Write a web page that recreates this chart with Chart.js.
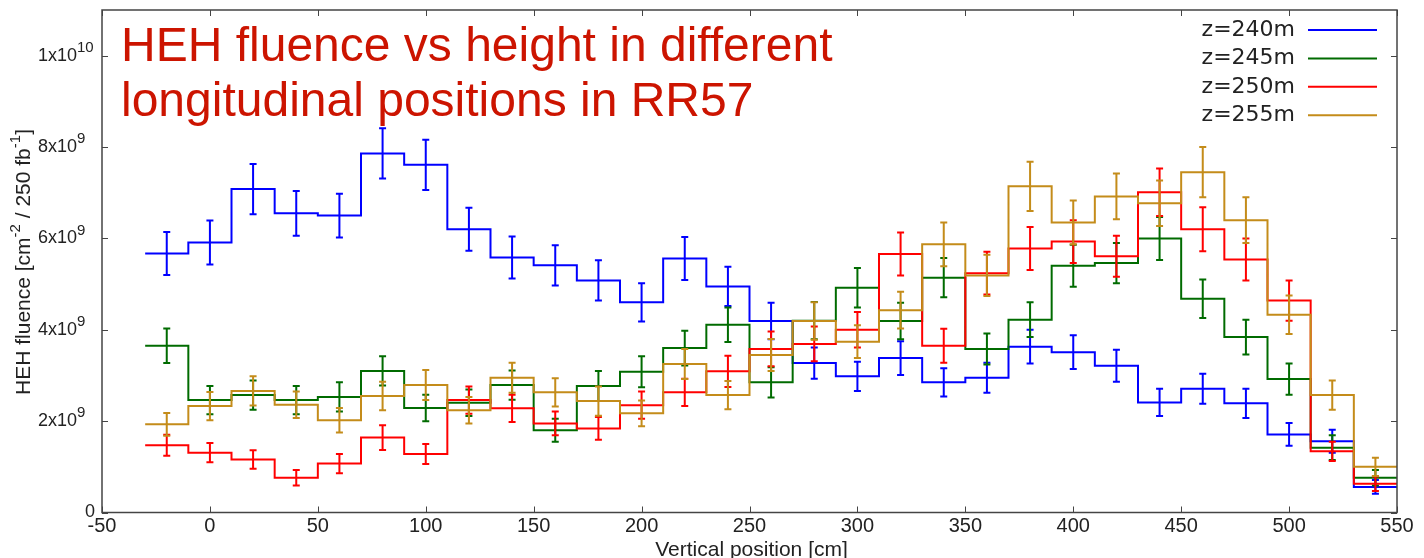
<!DOCTYPE html>
<html>
<head>
<meta charset="utf-8">
<title>HEH fluence vs height</title>
<script src="https://cdn.jsdelivr.net/npm/chart.js@4/dist/chart.umd.min.js"></script>
<style>
  html, body { margin: 0; padding: 0; background: #fff; }
</style>
</head>
<body>
<canvas id="chart" width="1424" height="558"></canvas>
<script>
// bin centres in cm (bins are 20 cm wide), fluence in units of 1e9 cm^-2 / 250 fb^-1
const binCenters = [-20, 0, 20, 40, 60, 80, 100, 120, 140, 160, 180, 200, 220, 240, 260,
    280, 300, 320, 340, 360, 380, 400, 420, 440, 460, 480, 500, 520, 540];
const binWidth = 20;

const z240 = [5.67, 5.91, 7.08, 6.55, 6.50, 7.86, 7.61, 6.20, 5.58, 5.41, 5.08, 4.60, 5.56, 4.95, 4.19,
    3.27, 2.98, 3.38, 2.85, 2.95, 3.63, 3.51, 3.21, 2.41, 2.71, 2.39, 1.71, 1.56, 0.56];
const z240Err = [0.47, 0.48, 0.55, 0.49, 0.48, 0.55, 0.55, 0.47, 0.46, 0.44, 0.44, 0.42, 0.47, 0.43, 0.40,
    0.34, 0.32, 0.37, 0.31, 0.33, 0.37, 0.37, 0.35, 0.30, 0.33, 0.32, 0.25, 0.25, 0.15];

const z245 = [3.65, 2.46, 2.57, 2.46, 2.53, 3.10, 2.29, 2.40, 2.79, 1.80, 2.77, 3.08, 3.60, 4.11, 2.85,
    4.20, 4.92, 4.19, 5.14, 3.58, 4.22, 5.40, 5.46, 6.00, 4.68, 3.84, 2.92, 1.42, 0.76];
const z245Err = [0.38, 0.31, 0.32, 0.31, 0.32, 0.32, 0.29, 0.29, 0.32, 0.25, 0.33, 0.34, 0.38, 0.38, 0.33,
    0.41, 0.43, 0.40, 0.43, 0.34, 0.38, 0.46, 0.44, 0.47, 0.42, 0.38, 0.34, 0.27, 0.17];

const z250 = [1.47, 1.31, 1.16, 0.76, 1.07, 1.64, 1.28, 2.46, 2.28, 1.95, 1.84, 2.35, 2.63, 3.09, 3.58,
    3.69, 4.00, 5.66, 3.65, 5.24, 5.78, 5.93, 5.61, 7.01, 6.20, 5.54, 4.64, 1.34, 0.63];
const z250Err = [0.23, 0.21, 0.20, 0.17, 0.21, 0.27, 0.22, 0.30, 0.30, 0.26, 0.25, 0.30, 0.30, 0.34, 0.38,
    0.38, 0.39, 0.47, 0.37, 0.47, 0.47, 0.47, 0.45, 0.52, 0.48, 0.46, 0.44, 0.21, 0.16];

const z255 = [1.93, 2.33, 2.66, 2.36, 2.02, 2.55, 2.79, 2.24, 2.95, 2.63, 2.44, 2.17, 3.25, 2.57, 3.45,
    4.19, 3.74, 4.43, 5.87, 5.19, 7.14, 6.35, 6.92, 6.77, 7.45, 6.40, 4.33, 2.57, 1.00];
const z255Err = [0.25, 0.31, 0.32, 0.29, 0.27, 0.31, 0.33, 0.29, 0.33, 0.31, 0.32, 0.28, 0.33, 0.31, 0.35,
    0.41, 0.36, 0.40, 0.48, 0.45, 0.54, 0.48, 0.50, 0.50, 0.55, 0.50, 0.42, 0.32, 0.20];

const seriesLabels = ['z=240m', 'z=245m', 'z=250m', 'z=255m'];
const seriesColors = ['#0000ff', '#006b00', '#ff0000', '#c48c1a'];
const seriesValues = [z240, z245, z250, z255];
const seriesErrors = [z240Err, z245Err, z250Err, z255Err];

const xTicks = [-50, 0, 50, 100, 150, 200, 250, 300, 350, 400, 450, 500, 550];
const yTicks = [0, 2, 4, 6, 8, 10];
const yTickLabels = [['0', ''], ['2x10', '9'], ['4x10', '9'], ['6x10', '9'], ['8x10', '9'], ['1x10', '10']];

const titleLines = ['HEH fluence vs height in different', 'longitudinal positions in RR57'];

const FONT = '"Liberation Sans", Arial, sans-serif';
const TEXT = '#222';

// histogram steps: each bin becomes a flat segment from its low to its high edge
function stepPoints(values) {
    const pts = [];
    binCenters.forEach((c, i) => {
        pts.push({ x: c - binWidth / 2, y: values[i] });
        pts.push({ x: c + binWidth / 2, y: values[i] });
    });
    return pts;
}

const datasets = seriesValues.map((vals, i) => ({
    label: seriesLabels[i],
    data: stepPoints(vals),
    borderColor: seriesColors[i],
    borderWidth: 2,
    pointRadius: 0,
    tension: 0,
    fill: false,
    order: seriesValues.length - i
}));

// vertical error bars with caps, drawn right after their own dataset
const errorBars = {
    id: 'errorBars',
    afterDatasetDraw(chart, args) {
        const i = args.index;
        const ctx = chart.ctx;
        const xs = chart.scales.x, ys = chart.scales.y;
        ctx.save();
        ctx.strokeStyle = seriesColors[i];
        ctx.lineWidth = 2;
        binCenters.forEach((c, k) => {
            const v = seriesValues[i][k], e = seriesErrors[i][k];
            const px = xs.getPixelForValue(c);
            const top = ys.getPixelForValue(v + e);
            const bot = ys.getPixelForValue(v - e);
            ctx.beginPath();
            ctx.moveTo(px, top); ctx.lineTo(px, bot);
            ctx.moveTo(px - 3.5, top); ctx.lineTo(px + 3.5, top);
            ctx.moveTo(px - 3.5, bot); ctx.lineTo(px + 3.5, bot);
            ctx.stroke();
        });
        ctx.restore();
    }
};

// frame with inward ticks, tick labels, axis titles, title and key
const decorations = {
    id: 'decorations',
    afterDraw(chart) {
        const ctx = chart.ctx;
        const a = chart.chartArea;
        const xs = chart.scales.x, ys = chart.scales.y;
        ctx.save();

        ctx.strokeStyle = '#444';
        ctx.lineWidth = 1.5;
        ctx.strokeRect(a.left, a.top, a.right - a.left, a.bottom - a.top);
        ctx.lineWidth = 1;
        ctx.beginPath();
        xTicks.forEach(t => {
            const px = Math.round(xs.getPixelForValue(t)) + 0.5;
            ctx.moveTo(px, a.bottom); ctx.lineTo(px, a.bottom - 6);
            ctx.moveTo(px, a.top); ctx.lineTo(px, a.top + 6);
        });
        yTicks.forEach(t => {
            const py = Math.round(ys.getPixelForValue(t)) + 0.5;
            ctx.moveTo(a.left, py); ctx.lineTo(a.left + 6, py);
            ctx.moveTo(a.right, py); ctx.lineTo(a.right - 6, py);
        });
        ctx.stroke();

        ctx.fillStyle = TEXT;
        ctx.font = '20px ' + FONT;
        ctx.textAlign = 'center';
        ctx.textBaseline = 'middle';
        xTicks.forEach(t => ctx.fillText(String(t), xs.getPixelForValue(t), a.bottom + 14));

        yTicks.forEach((t, k) => {
            const py = ys.getPixelForValue(t);
            const [base, sup] = yTickLabels[k];
            ctx.textAlign = 'right';
            ctx.font = '18px ' + FONT;
            ctx.textBaseline = 'middle';
            if (sup) {
                ctx.fillText(base, a.left - 25, py);
                ctx.textAlign = 'left';
                ctx.font = '15px ' + FONT;
                ctx.fillText(sup, a.left - 25, py - 8);
            } else {
                ctx.fillText(base, a.left - 7, py);
            }
        });

        ctx.font = '21px ' + FONT;
        ctx.textAlign = 'center';
        ctx.fillText('Vertical position [cm]', (a.left + a.right) / 2 + 2, a.bottom + 38);

        // rotated y title with superscripts
        const parts = [['HEH fluence [cm', 0], ['-2', 1], [' / 250 fb', 0], ['-1', 1], [']', 0]];
        ctx.save();
        ctx.translate(24, 262);
        ctx.rotate(-Math.PI / 2);
        ctx.textAlign = 'left';
        ctx.textBaseline = 'middle';
        let total = 0;
        parts.forEach(([s, up]) => {
            ctx.font = (up ? '15px ' : '21px ') + FONT;
            total += ctx.measureText(s).width;
        });
        let cx = -total / 2;
        parts.forEach(([s, up]) => {
            ctx.font = (up ? '15px ' : '21px ') + FONT;
            ctx.fillText(s, cx, up ? -8 : 0);
            cx += ctx.measureText(s).width;
        });
        ctx.restore();

        ctx.fillStyle = '#cc1400';
        ctx.font = '48px ' + FONT;
        ctx.textAlign = 'left';
        ctx.textBaseline = 'alphabetic';
        titleLines.forEach((line, k) => ctx.fillText(line, a.left + 19, 61 + k * 55));

        // key: label then line sample
        ctx.font = '22px "DejaVu Sans", sans-serif';
        ctx.textBaseline = 'middle';
        seriesLabels.forEach((lab, k) => {
            const y = 30 + k * 28.4;
            ctx.fillStyle = TEXT;
            ctx.textAlign = 'right';
            ctx.fillText(lab, 1295, y);
            ctx.strokeStyle = seriesColors[k];
            ctx.lineWidth = 2;
            ctx.beginPath();
            ctx.moveTo(1308, y); ctx.lineTo(1377, y);
            ctx.stroke();
        });
        ctx.restore();
    }
};

new Chart(document.getElementById('chart'), {
    type: 'line',
    data: { datasets: datasets },
    options: {
        responsive: false,
        animation: false,
        layout: { padding: { left: 102, top: 10, right: 27, bottom: 45.5 } },
        scales: {
            x: { type: 'linear', min: -50, max: 550, display: false },
            y: { type: 'linear', min: 0, max: 11, display: false }
        },
        plugins: {
            legend: { display: false },
            tooltip: { enabled: false }
        }
    },
    plugins: [errorBars, decorations]
});
</script>
</body>
</html>
